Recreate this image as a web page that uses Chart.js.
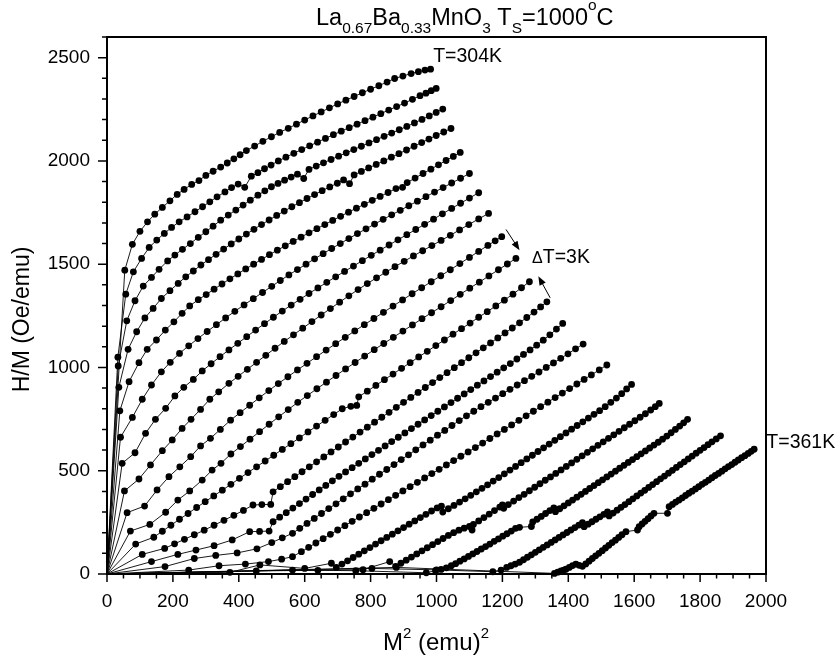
<!DOCTYPE html>
<html>
<head>
<meta charset="utf-8">
<title>La0.67Ba0.33MnO3 Arrott plot</title>
<script src="https://cdn.jsdelivr.net/npm/chart.js@4/dist/chart.umd.min.js"></script>
<style>
  html, body { margin: 0; padding: 0; background: #fff; }
  #wrap { position: relative; width: 840px; height: 661px; }
</style>
</head>
<body>
<div id="wrap"><canvas id="chart"></canvas></div>
<script>
// температуры изотерм, K
const temps = [304, 307, 310, 313, 316, 319, 322, 325, 328, 331, 334, 337, 340, 343, 346, 349, 352, 355, 358, 361];

// подписи осей
const xLabels = [0, 200, 400, 600, 800, 1000, 1200, 1400, 1600, 1800, 2000];
const yLabels = [0, 500, 1000, 1500, 2000, 2500];

// изотермы: [M^2 (emu)^2, H/M (Oe/emu)]
const t304 = [[0,0],[54,1471],[77,1596],[100,1659],[123,1705],[145,1742],[168,1775],[191,1807],[213,1838],[234,1862],[257,1886],[279,1905],[300,1930],[322,1950],[345,1970],[365,1990],[385,2010],[404,2030],[423,2050],[448,2072],[473,2095],[499,2117],[524,2138],[550,2158],[575,2178],[600,2198],[625,2218],[650,2237],[675,2257],[700,2276],[725,2294],[750,2312],[775,2330],[800,2347],[825,2364],[850,2382],[873,2399],[898,2411],[923,2423],[945,2432],[965,2440],[982,2444]];
const t307 = [[0,0],[33,1050],[57,1355],[80,1463],[105,1528],[128,1581],[151,1617],[174,1649],[196,1678],[219,1705],[243,1729],[267,1754],[290,1778],[312,1802],[334,1826],[358,1850],[378,1871],[398,1888],[418,1872],[438,1926],[458,1943],[478,1962],[498,1980],[520,2000],[543,2018],[567,2037],[591,2055],[615,2073],[639,2091],[663,2109],[687,2127],[711,2144],[735,2161],[759,2178],[783,2195],[807,2212],[831,2229],[855,2246],[879,2263],[903,2280],[927,2298],[950,2316],[968,2328],[984,2340],[999,2351]];
const t310 = [[0,0],[34,1007],[60,1226],[85,1323],[110,1394],[135,1436],[158,1475],[184,1516],[206,1544],[229,1572],[253,1600],[277,1630],[300,1657],[322,1684],[345,1713],[368,1738],[391,1762],[413,1786],[435,1810],[458,1834],[479,1855],[499,1875],[519,1891],[539,1907],[559,1922],[578,1936],[597,1915],[613,1959],[635,1975],[657,1991],[680,2007],[703,2023],[726,2039],[749,2055],[772,2071],[795,2087],[818,2103],[841,2119],[864,2135],[887,2151],[910,2167],[933,2184],[956,2201],[978,2218],[999,2235],[1019,2251]];
const t313 = [[0,0],[36,904],[64,1088],[90,1173],[115,1240],[140,1286],[165,1334],[191,1372],[216,1407],[239,1439],[262,1467],[285,1496],[308,1522],[331,1548],[354,1573],[377,1598],[400,1622],[423,1646],[446,1669],[469,1692],[492,1714],[515,1736],[538,1757],[561,1778],[584,1798],[607,1818],[630,1837],[653,1856],[676,1874],[699,1892],[718,1908],[736,1890],[750,1932],[772,1949],[794,1966],[817,1983],[840,2000],[863,2018],[886,2035],[909,2053],[932,2071],[955,2089],[977,2106],[999,2123],[1022,2140],[1044,2157]];
const t316 = [[0,0],[39,790],[67,931],[97,1023],[122,1088],[150,1133],[177,1181],[203,1221],[228,1262],[251,1298],[277,1328],[301,1353],[325,1379],[349,1404],[373,1429],[397,1453],[421,1477],[445,1500],[469,1523],[493,1546],[517,1568],[541,1589],[565,1610],[589,1631],[613,1652],[637,1672],[661,1692],[685,1712],[709,1732],[733,1752],[757,1771],[781,1790],[805,1809],[829,1828],[853,1847],[877,1866],[897,1872],[911,1895],[935,1917],[959,1939],[983,1960],[1006,1981],[1029,2002],[1051,2022],[1072,2041]];
const t319 = [[0,0],[41,662],[77,758],[107,846],[135,915],[165,979],[192,1025],[220,1068],[248,1105],[276,1140],[304,1174],[332,1207],[360,1240],[388,1272],[416,1303],[444,1333],[472,1363],[500,1393],[526,1421],[552,1448],[578,1474],[604,1500],[630,1526],[656,1551],[682,1576],[708,1600],[734,1624],[760,1648],[786,1671],[812,1694],[838,1717],[864,1739],[890,1761],[916,1783],[942,1805],[968,1827],[994,1849],[1020,1871],[1046,1893],[1073,1916],[1100,1939]];
const t322 = [[0,0],[46,536],[85,587],[117,681],[147,749],[178,802],[206,862],[233,904],[262,942],[289,983],[316,1018],[343,1052],[370,1085],[397,1117],[424,1149],[451,1181],[478,1212],[505,1243],[532,1273],[559,1302],[586,1330],[613,1358],[640,1385],[667,1412],[694,1439],[721,1465],[748,1491],[775,1517],[802,1543],[829,1568],[856,1593],[883,1618],[910,1643],[937,1668],[964,1693],[991,1718],[1018,1744],[1046,1770],[1073,1795],[1100,1820],[1128,1846]];
const t325 = [[0,0],[53,402],[97,460],[132,528],[168,597],[198,649],[228,705],[255,749],[284,797],[312,846],[339,882],[370,923],[398,957],[426,991],[454,1025],[482,1059],[510,1093],[538,1126],[566,1158],[594,1190],[622,1222],[650,1254],[678,1285],[706,1316],[734,1347],[762,1377],[790,1406],[818,1434],[846,1461],[874,1488],[902,1514],[930,1540],[958,1565],[986,1590],[1014,1615],[1042,1640],[1070,1666],[1098,1692],[1128,1719],[1158,1746]];
const t328 = [[0,0],[61,297],[114,329],[152,407],[188,471],[221,519],[254,568],[284,620],[314,657],[344,700],[375,745],[404,781],[433,817],[462,853],[491,888],[520,922],[549,955],[578,988],[607,1020],[636,1052],[665,1084],[694,1115],[723,1146],[752,1177],[781,1207],[810,1237],[839,1267],[868,1297],[897,1327],[926,1357],[955,1386],[984,1415],[1013,1444],[1042,1473],[1071,1503],[1100,1533],[1128,1562],[1156,1591],[1178,1613],[1198,1633]];
const t331 = [[0,0],[71,208],[130,240],[178,299],[215,358],[251,402],[289,455],[319,503],[346,536],[376,581],[405,617],[434,653],[463,689],[492,725],[521,761],[550,796],[579,831],[608,864],[637,897],[666,929],[695,961],[724,993],[753,1024],[782,1055],[811,1086],[840,1116],[869,1146],[898,1176],[927,1206],[956,1236],[985,1265],[1014,1294],[1043,1324],[1072,1354],[1101,1384],[1130,1413],[1159,1443],[1188,1473],[1215,1501],[1241,1528]];
const t334 = [[0,0],[87,145],[142,178],[168,207],[194,236],[220,265],[246,293],[272,322],[298,350],[324,378],[350,406],[376,434],[402,463],[428,491],[454,519],[480,547],[506,575],[532,603],[558,631],[584,659],[610,688],[636,716],[662,744],[688,772],[714,800],[740,812],[758,816],[764,858],[790,885],[816,913],[842,941],[868,968],[894,996],[920,1023],[946,1051],[972,1078],[998,1106],[1024,1133],[1050,1161],[1076,1188],[1102,1215],[1128,1243],[1154,1270],[1180,1298],[1206,1326],[1232,1355],[1258,1386],[1282,1415]];
const t337 = [[0,0],[107,95],[175,124],[205,146],[235,168],[265,190],[295,212],[325,236],[355,260],[385,284],[414,308],[443,334],[470,336],[497,337],[504,398],[526,423],[548,447],[570,471],[592,495],[614,519],[636,543],[658,567],[680,591],[702,615],[724,639],[746,663],[768,687],[790,711],[812,735],[834,759],[856,783],[878,807],[900,831],[922,855],[944,879],[966,903],[988,927],[1010,951],[1032,975],[1054,999],[1076,1023],[1098,1047],[1120,1071],[1142,1095],[1164,1119],[1186,1143],[1208,1167],[1230,1191],[1252,1216],[1274,1242],[1296,1268],[1316,1293],[1335,1318]];
const t340 = [[0,0],[135,60],[215,95],[270,116],[325,137],[380,165],[433,205],[463,206],[492,208],[504,253],[524,275],[544,297],[564,319],[584,341],[604,363],[624,385],[644,407],[664,429],[684,451],[704,473],[724,494],[744,515],[764,536],[784,557],[804,578],[824,599],[844,620],[864,641],[884,662],[904,683],[924,704],[944,725],[964,746],[984,767],[1004,788],[1024,809],[1044,830],[1064,851],[1084,872],[1104,893],[1124,914],[1144,935],[1164,956],[1184,977],[1204,998],[1224,1019],[1244,1041],[1264,1063],[1284,1085],[1304,1108],[1324,1132],[1344,1158],[1364,1186],[1383,1213]];
const t343 = [[0,0],[176,36],[265,75],[330,90],[395,102],[455,122],[500,152],[532,175],[563,197],[585,221],[607,245],[629,269],[651,293],[673,317],[695,340],[717,364],[739,388],[761,412],[783,435],[805,459],[827,483],[849,506],[871,530],[893,554],[915,577],[937,601],[959,625],[981,648],[1003,672],[1025,695],[1047,719],[1069,743],[1091,766],[1113,788],[1135,810],[1157,831],[1179,852],[1201,873],[1223,894],[1245,915],[1267,936],[1289,957],[1311,978],[1333,1000],[1355,1022],[1377,1044],[1399,1066],[1422,1090],[1445,1113]];
const t346 = [[0,0],[248,19],[340,40],[420,48],[490,60],[530,72],[563,84],[590,108],[612,129],[634,150],[656,171],[678,192],[700,213],[722,234],[744,255],[766,276],[788,297],[810,318],[832,339],[854,360],[876,381],[898,402],[920,423],[942,444],[964,465],[986,486],[1008,507],[1030,528],[1052,549],[1074,570],[1096,591],[1118,612],[1140,634],[1162,656],[1184,678],[1206,700],[1228,722],[1250,744],[1272,766],[1294,788],[1316,810],[1338,832],[1360,854],[1382,876],[1404,898],[1426,920],[1448,942],[1470,964],[1494,988],[1517,1012]];
const t349 = [[0,0],[373,8],[464,44],[600,27],[681,52],[696,32],[713,48],[730,64],[747,80],[764,96],[781,112],[798,128],[815,145],[832,161],[849,177],[866,193],[883,209],[900,225],[917,241],[934,257],[951,273],[968,289],[985,305],[1002,320],[1015,328],[1019,300],[1036,316],[1053,332],[1070,348],[1087,364],[1104,381],[1121,398],[1138,415],[1155,432],[1172,450],[1189,467],[1206,485],[1223,503],[1240,521],[1257,539],[1274,557],[1291,575],[1308,593],[1325,611],[1342,629],[1359,647],[1376,665],[1393,683],[1410,701],[1427,719],[1444,737],[1461,755],[1478,773],[1495,791],[1512,810],[1529,831],[1546,852],[1562,873],[1577,896],[1592,918]];
const t352 = [[0,0],[453,15],[640,18],[777,21],[858,60],[876,37],[892,52],[908,67],[924,82],[940,97],[956,112],[972,127],[988,142],[1004,157],[1020,172],[1036,187],[1052,200],[1068,212],[1084,222],[1100,230],[1108,213],[1112,240],[1128,257],[1144,273],[1160,290],[1176,307],[1192,324],[1200,334],[1204,318],[1218,336],[1234,353],[1250,370],[1266,386],[1282,403],[1298,420],[1314,437],[1330,454],[1346,470],[1362,487],[1378,504],[1394,521],[1410,538],[1426,555],[1442,572],[1458,589],[1474,606],[1490,623],[1506,640],[1522,657],[1538,674],[1554,691],[1570,708],[1586,725],[1602,742],[1618,759],[1634,776],[1650,794],[1664,810],[1676,826]];
const t355 = [[0,0],[563,19],[755,16],[969,6],[997,16],[1014,22],[1030,30],[1045,40],[1058,50],[1071,62],[1084,73],[1097,85],[1110,97],[1123,109],[1136,121],[1149,133],[1162,145],[1175,158],[1188,170],[1201,183],[1214,195],[1227,208],[1240,221],[1252,226],[1288,230],[1292,252],[1305,265],[1318,279],[1331,293],[1344,307],[1356,320],[1361,302],[1374,316],[1387,330],[1400,344],[1413,358],[1426,372],[1439,386],[1452,400],[1465,414],[1478,428],[1491,442],[1504,456],[1517,470],[1530,484],[1543,498],[1556,512],[1569,526],[1582,540],[1595,554],[1608,568],[1621,582],[1634,596],[1647,610],[1660,624],[1673,638],[1686,653],[1699,668],[1712,684],[1725,700],[1738,716],[1750,732],[1762,749]];
const t358 = [[0,0],[804,27],[1000,20],[1171,11],[1196,19],[1213,32],[1226,40],[1239,48],[1252,57],[1264,69],[1276,81],[1288,93],[1300,105],[1312,117],[1324,129],[1336,141],[1348,153],[1360,165],[1372,177],[1384,189],[1396,201],[1408,213],[1420,225],[1432,237],[1443,249],[1448,229],[1460,241],[1472,253],[1484,265],[1496,277],[1508,289],[1519,301],[1524,281],[1536,295],[1548,309],[1560,323],[1572,336],[1584,350],[1596,364],[1608,378],[1620,392],[1632,405],[1644,419],[1656,433],[1668,447],[1680,461],[1692,474],[1704,488],[1716,502],[1728,516],[1740,530],[1752,543],[1764,557],[1776,571],[1788,585],[1800,599],[1812,612],[1824,626],[1836,640],[1849,654],[1862,669]];
const t361 = [[0,0],[878,32],[1358,3],[1368,9],[1378,15],[1386,19],[1393,23],[1403,32],[1413,41],[1423,48],[1433,42],[1443,37],[1453,49],[1463,62],[1473,75],[1483,88],[1493,100],[1503,113],[1513,126],[1523,139],[1533,152],[1543,164],[1553,177],[1563,190],[1575,205],[1610,213],[1615,229],[1624,242],[1633,255],[1642,268],[1651,281],[1660,294],[1701,294],[1706,326],[1716,337],[1726,348],[1736,358],[1746,369],[1756,380],[1766,391],[1776,401],[1786,412],[1796,423],[1806,434],[1816,444],[1826,455],[1836,466],[1846,477],[1856,487],[1866,498],[1876,509],[1886,520],[1896,530],[1906,541],[1916,552],[1926,563],[1936,573],[1946,584],[1955,594],[1964,604]];

const curves = [t304, t307, t310, t313, t316, t319, t322, t325, t328, t331,
                t334, t337, t340, t343, t346, t349, t352, t355, t358, t361];

// подписи и стрелки в координатах данных
const notes = [
  { parts: [['T=304K', 19.5, 0]], x: 990, y: 2479 },
  { parts: [['\u0394', 16, 0], ['T=3K', 19.5, 0]], x: 1290, y: 1506 },
  { parts: [['T=361K', 19.5, 0]], x: 2001, y: 610 },
];
const arrows = [
  { from: [1211, 1668], to: [1252, 1568] },
  { from: [1345, 1337], to: [1309, 1442] },
];

const FONT = "'Liberation Sans', Arial, Helvetica, sans-serif";

// текст с индексами: [строка, размер, сдвиг базовой линии]
function richText(ctx, parts, x, y) {
  for (const [s, size, dy] of parts) {
    ctx.font = size + 'px ' + FONT;
    ctx.fillText(s, x, y + dy);
    x += ctx.measureText(s).width;
  }
}

function arrow(ctx, x1, y1, x2, y2) {
  const a = Math.atan2(y2 - y1, x2 - x1);
  const L = 9, W = 3.5;
  ctx.beginPath();
  ctx.moveTo(x1, y1);
  ctx.lineTo(x2 - L * 0.6 * Math.cos(a), y2 - L * 0.6 * Math.sin(a));
  ctx.stroke();
  ctx.beginPath();
  ctx.moveTo(x2, y2);
  ctx.lineTo(x2 - L * Math.cos(a) + W * Math.sin(a), y2 - L * Math.sin(a) - W * Math.cos(a));
  ctx.lineTo(x2 - L * Math.cos(a) - W * Math.sin(a), y2 - L * Math.sin(a) + W * Math.cos(a));
  ctx.closePath();
  ctx.fill();
}

// рамка, засечки, заголовки
const decor = {
  id: 'decor',
  afterDraw(chart) {
    const { ctx, chartArea: a, scales: { x, y } } = chart;
    ctx.save();
    ctx.strokeStyle = '#000';
    ctx.fillStyle = '#000';

    // засечки наружу
    ctx.lineWidth = 1.5;
    ctx.beginPath();
    x.ticks.forEach(t => {
      const px = x.getPixelForValue(t.value);
      const len = xLabels.includes(t.value) ? 8 : 4.5;
      ctx.moveTo(px, a.bottom);
      ctx.lineTo(px, a.bottom + len);
    });
    y.ticks.forEach(t => {
      const py = y.getPixelForValue(t.value);
      const len = yLabels.includes(t.value) ? 9 : 5;
      ctx.moveTo(a.left, py);
      ctx.lineTo(a.left - len, py);
    });
    ctx.stroke();

    ctx.lineWidth = 2;
    ctx.strokeRect(a.left, a.top, a.right - a.left, a.bottom - a.top);

    // заголовок
    ctx.textBaseline = 'alphabetic';
    ctx.textAlign = 'left';
    richText(ctx, [
      ['La', 23.5, 0], ['0.67', 15.5, 8], ['Ba', 23.5, 0], ['0.33', 15.5, 8],
      ['MnO', 23.5, 0], ['3', 15.5, 8], [' T', 23.5, 0], ['S', 15.5, 8],
      ['=1000', 23.5, 0], ['o', 15.5, -15], ['C', 23.5, 0],
    ], 316, 25);

    // подпись оси x
    richText(ctx, [['M', 24, 0], ['2', 15, -12], [' (emu)', 24, 0], ['2', 15, -12]], 383, 650);

    // подпись оси y
    ctx.save();
    ctx.translate(29, (a.top + a.bottom) / 2 + 14);
    ctx.rotate(-Math.PI / 2);
    ctx.textAlign = 'center';
    ctx.font = '23px ' + FONT;
    ctx.fillText('H/M (Oe/emu)', 0, 0);
    ctx.restore();

    // метки температур
    notes.forEach(n => richText(ctx, n.parts, x.getPixelForValue(n.x), y.getPixelForValue(n.y)));

    // стрелки
    ctx.lineWidth = 1;
    arrows.forEach(ar => arrow(ctx,
      x.getPixelForValue(ar.from[0]), y.getPixelForValue(ar.from[1]),
      x.getPixelForValue(ar.to[0]), y.getPixelForValue(ar.to[1])));

    ctx.restore();
  }
};

const datasets = curves.map((pts, i) => ({
  label: temps[i] + 'K',
  data: pts.map(([m2, hm]) => ({ x: m2, y: hm })),
  showLine: true,
  borderColor: '#000',
  borderWidth: 0.9,
  backgroundColor: '#000',
  pointBackgroundColor: '#000',
  pointBorderWidth: 0,
  pointRadius: ctx => ctx.dataIndex === 0 ? 0 : 3.4,
  pointHoverRadius: 0,
  tension: 0,
  clip: false,
}));

new Chart(document.getElementById('chart'), {
  type: 'scatter',
  data: { datasets },
  options: {
    responsive: true,
    maintainAspectRatio: false,
    animation: false,
    events: [],
    layout: { padding: { top: 37, right: 74, left: 0, bottom: 0 } },
    plugins: { legend: { display: false }, tooltip: { enabled: false } },
    scales: {
      x: {
        type: 'linear',
        position: 'bottom',
        min: 0,
        max: 2000,
        afterFit: s => { s.height = 87; },
        grid: { display: false, drawTicks: false, tickLength: 0 },
        border: { display: false },
        ticks: {
          stepSize: 50,
          autoSkip: false,
          maxRotation: 0,
          padding: 16,
          color: '#000',
          font: { family: FONT, size: 19 },
          callback: v => xLabels.includes(v) ? String(v) : '',
        },
      },
      y: {
        type: 'linear',
        min: 0,
        max: 2600,
        afterFit: s => { s.width = 107; },
        grid: { display: false, drawTicks: false, tickLength: 0 },
        border: { display: false },
        ticks: {
          stepSize: 100,
          autoSkip: false,
          padding: 17,
          color: '#000',
          font: { family: FONT, size: 19 },
          callback: v => yLabels.includes(v) ? String(v) : '',
        },
      },
    },
  },
  plugins: [decor],
});
</script>
</body>
</html>
